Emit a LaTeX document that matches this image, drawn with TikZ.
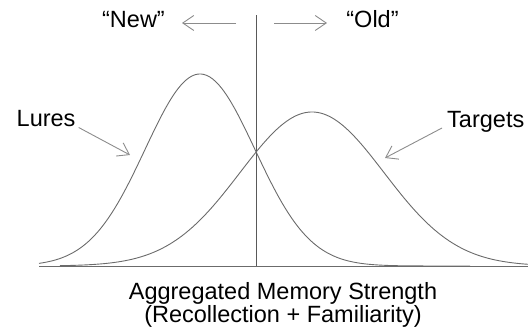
\documentclass[tikz,border=0pt]{standalone}
\usepackage{fontspec}
\setmainfont{Liberation Sans}
\usetikzlibrary{arrows.meta}

\tikzstyle{curve} = [draw=black!58, line width=0.9pt]
\tikzstyle{pointer} = [draw=black!45, line width=0.9pt, -{Straight Barb[length=11pt,width=15pt]}]
\tikzstyle{label} = [inner sep=0pt, font=\fontsize{23.5}{23.4}\selectfont]

\begin{document}
\begin{tikzpicture}[x=1pt, y=1pt]
      \useasboundingbox (0,0) rectangle (528,335);
      % axis and criterion
      \coordinate (axl) at (39,69);
      \coordinate (axr) at (528,69);
      \coordinate (crit) at (256,69);
      \coordinate (crittop) at (256,320);
      \draw[curve] (axl) -- (axr);
      \draw[draw=black!65, line width=1pt] (crit) -- (crittop);
      % distributions
      \draw[curve] plot[domain=39:470, samples=150, smooth] (\x, {69+192*exp(-0.5*((\x-200)/55)^2)});
      \draw[curve] plot[domain=60:528, samples=150, smooth] (\x, {69+154*exp(-0.5*((\x-312)/72)^2)});
      % labels
      \node[label, anchor=base] (new) at (133.5,307) {“New”};
      \node[label, anchor=base] (old) at (372.5,307) {“Old”};
      \node[label, anchor=base west] (lures) at (16.5,208.5) {Lures};
      \node[label, anchor=base west] (targets) at (447,207) {Targets};
      \node[label, anchor=base, align=center] (xlabel) at (283,12.3)
           {Aggregated Memory Strength\\(Recollection + Familiarity)};
      \coordinate (newtail) at (236,312);
      \coordinate (newtip) at (182,312);
      \coordinate (oldtail) at (274,312);
      \coordinate (oldtip) at (327,312);
      \coordinate (luretip) at (130,180);
      \coordinate (targettip) at (385,177);
      \draw[pointer] (newtail) -- (newtip);
      \draw[pointer] (oldtail) -- (oldtip);
      \draw[pointer] ([xshift=3pt,yshift=-1pt]lures.base east) -- (luretip);
      \draw[pointer] ([xshift=-5pt]targets.base west) -- (targettip);
    \end{tikzpicture}
\end{document}
